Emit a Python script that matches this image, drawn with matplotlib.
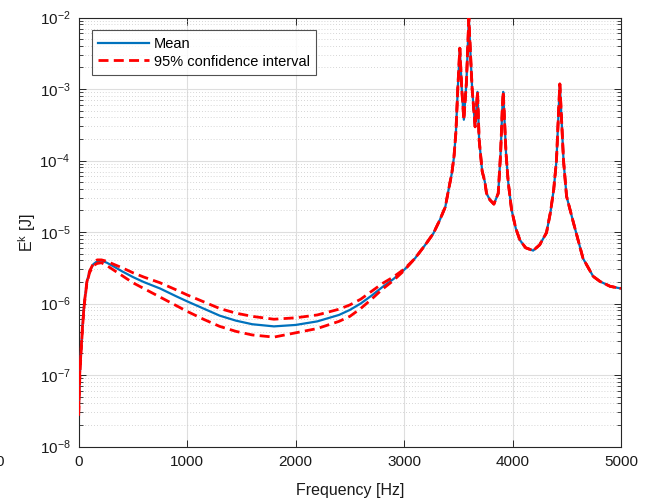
import matplotlib
matplotlib.use("Agg")
import matplotlib.pyplot as plt
import numpy as np
from matplotlib.ticker import LogLocator, FixedLocator, NullFormatter

plt.rcParams['font.family'] = ['Liberation Sans', 'DejaVu Sans']
plt.rcParams['mathtext.fontset'] = 'custom'
plt.rcParams['mathtext.rm'] = 'Liberation Sans'
plt.rcParams['mathtext.it'] = 'Liberation Sans:italic'
plt.rcParams['mathtext.bf'] = 'Liberation Sans:bold'

# Frequencies [Hz]
freq = [0, 10, 20, 35, 50, 75, 100, 135, 170, 210, 260, 320, 400, 500, 600, 750, 900,
        1000, 1150, 1300, 1450, 1600, 1800, 2000, 2200, 2400, 2500, 2600, 2700, 2800,
        2900, 3000,
        3100, 3200, 3270, 3330, 3380, 3410, 3440, 3460, 3478, 3495, 3514, 3532, 3551,
        3575, 3597, 3612, 3628, 3655, 3677, 3692, 3720, 3745, 3760, 3791, 3828, 3868,
        3890, 3905, 3914, 3922, 3940, 3960, 3991, 4030, 4067, 4120, 4190, 4250, 4313,
        4350, 4380, 4405, 4425, 4436, 4448, 4470, 4498, 4558, 4650, 4743, 4805, 4900, 5000]

# log10 of kinetic energy [J]
mean_log = [-7.5, -6.98, -6.7, -6.32, -6.02, -5.7, -5.55, -5.45, -5.41, -5.40, -5.43, -5.48,
            -5.55, -5.63, -5.70, -5.79, -5.90, -5.97, -6.07, -6.17, -6.24, -6.29, -6.32,
            -6.30, -6.25, -6.16, -6.09, -6.00, -5.89, -5.77, -5.66, -5.53,
            -5.37, -5.17, -5.02, -4.83, -4.65, -4.41, -4.18, -3.95, -3.6, -3.0, -2.43,
            -3.0, -3.43, -2.9, -2.01, -2.5, -3.01, -3.53, -3.04, -3.71, -4.15, -4.3,
            -4.46, -4.55, -4.61, -4.46, -3.9, -3.3, -3.04, -3.3, -3.9, -4.3, -4.69,
            -4.95, -5.11, -5.22, -5.26, -5.18, -5.01, -4.72, -4.4, -4.0, -3.3, -2.93,
            -3.3, -4.0, -4.5, -4.85, -5.37, -5.62, -5.69, -5.76, -5.79]

upper_log = [-7.5, -6.98, -6.7, -6.32, -6.02, -5.7, -5.55, -5.44, -5.39, -5.39, -5.41, -5.45,
             -5.50, -5.57, -5.63, -5.71, -5.81, -5.88, -5.975, -6.07, -6.135, -6.18, -6.22,
             -6.20, -6.16, -6.08, -6.02, -5.94, -5.83, -5.72, -5.63, -5.52,
             -5.37, -5.17, -5.02, -4.83, -4.65, -4.41, -4.18, -3.95, -3.6, -3.0, -2.43,
             -3.0, -3.43, -2.9, -2.01, -2.5, -3.01, -3.53, -3.04, -3.71, -4.15, -4.3,
             -4.46, -4.55, -4.61, -4.46, -3.9, -3.3, -3.04, -3.3, -3.9, -4.3, -4.69,
             -4.95, -5.11, -5.22, -5.26, -5.18, -5.01, -4.72, -4.4, -4.0, -3.3, -2.93,
             -3.3, -4.0, -4.5, -4.85, -5.37, -5.62, -5.69, -5.76, -5.79]

lower_log = [-7.57, -7.05, -6.74, -6.35, -6.04, -5.72, -5.57, -5.47, -5.44, -5.43, -5.47, -5.53,
             -5.61, -5.71, -5.79, -5.91, -6.03, -6.11, -6.22, -6.32, -6.39, -6.44, -6.47,
             -6.41, -6.35, -6.25, -6.18, -6.07, -5.94, -5.80, -5.68, -5.54,
             -5.37, -5.17, -5.02, -4.83, -4.65, -4.41, -4.18, -3.95, -3.6, -3.0, -2.43,
             -3.0, -3.43, -2.9, -2.01, -2.5, -3.01, -3.53, -3.04, -3.71, -4.15, -4.3,
             -4.46, -4.55, -4.61, -4.46, -3.9, -3.3, -3.04, -3.3, -3.9, -4.3, -4.69,
             -4.95, -5.11, -5.22, -5.26, -5.18, -5.01, -4.72, -4.4, -4.0, -3.3, -2.93,
             -3.3, -4.0, -4.5, -4.85, -5.37, -5.62, -5.69, -5.76, -5.79]

x_ticks = [0, 1000, 2000, 3000, 4000, 5000]

f = np.array(freq, dtype=float)
mean = 10.0 ** np.array(mean_log)
upper = 10.0 ** np.array(upper_log)
lower = 10.0 ** np.array(lower_log)

fig = plt.figure(figsize=(6.48, 5.01), dpi=100)
ax = fig.add_axes([78.7 / 648, 1 - 446.5 / 501, (621 - 78.7) / 648, (446.5 - 17.5) / 501])

blue = '#0072BD'
ax.plot(f, mean, color=blue, lw=1.6, label='Mean', zorder=3)
ax.plot(f, upper, color='#FF0000', lw=2.0, dashes=(3.6, 1.9), label='95% confidence interval', zorder=4)
ax.plot(f, lower, color='#FF0000', lw=2.0, dashes=(3.6, 1.9), zorder=4)

ax.set_yscale('log')
ax.set_xlim(0, 5000)
ax.set_ylim(1e-8, 1e-2)
ax.xaxis.set_major_locator(FixedLocator(x_ticks))
ax.yaxis.set_major_locator(LogLocator(base=10, numticks=20))
ax.yaxis.set_minor_locator(LogLocator(base=10, subs=np.arange(2, 10), numticks=20))
ax.yaxis.set_minor_formatter(NullFormatter())

ax.grid(True, which='major', color='#dedede', lw=0.8, ls='-')
ax.grid(True, which='minor', axis='y', color='#c8c8c8', lw=0.6, ls=(0, (1, 2.5)))
ax.set_axisbelow(True)

for s in ax.spines.values():
    s.set_color('#262626')
    s.set_linewidth(0.8)

ax.tick_params(which='both', direction='in', top=True, right=True, colors='#262626',
               labelsize=11, labelcolor='#1a1a1a')
ax.tick_params(which='major', length=5, width=0.7, pad=6)
ax.tick_params(which='minor', length=2.8, width=0.6)

ax.set_xlabel('Frequency [Hz]', fontsize=11.5, color='#1a1a1a', labelpad=10)
ax.set_ylabel(r'E$^{\mathrm{k}}$ [J]', fontsize=11.5, color='#1a1a1a', labelpad=1)

leg = ax.legend(loc='upper left', bbox_to_anchor=(0.024, 0.97), fontsize=10.5,
                handlelength=3.5, handletextpad=0.3, borderpad=0.45, labelspacing=0.25,
                frameon=True, fancybox=False, borderaxespad=0)
leg.get_frame().set_edgecolor('#262626')
leg.get_frame().set_linewidth(0.8)

fig.text(0.0, 1 - 462 / 501, '0', ha='center', va='center', fontsize=11, color='#1a1a1a')

fig.savefig('out.png', dpi=100)
